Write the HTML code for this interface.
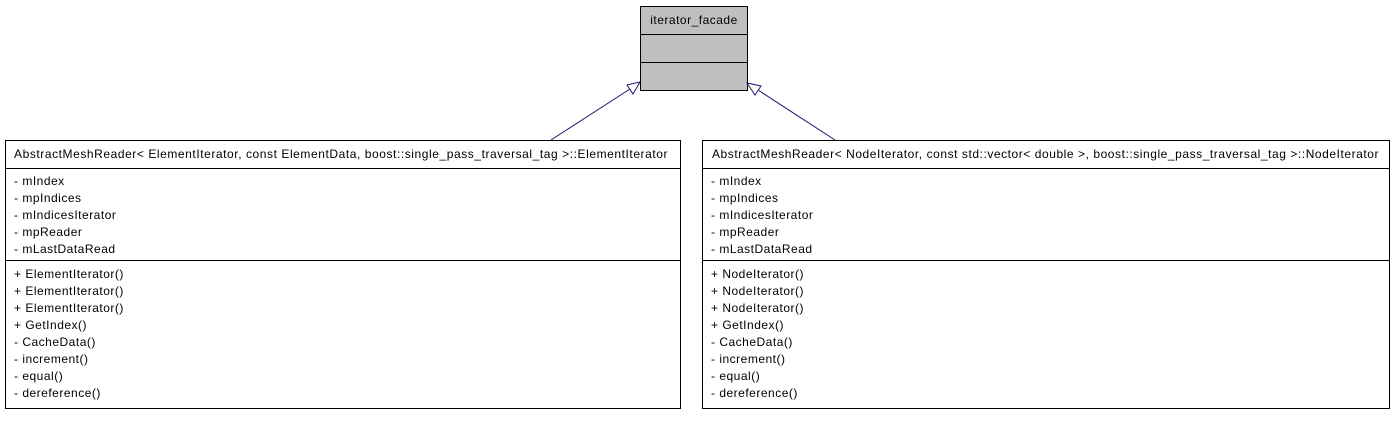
<!DOCTYPE html>
<html><head><style>body{margin:0;background:#fff}svg text{font-family:"Liberation Sans",sans-serif;font-size:12px;fill:#000;letter-spacing:0.5px}</style></head>
<body><svg width="1395" height="416" viewBox="0 0 1395 416" xmlns="http://www.w3.org/2000/svg">
<rect x="640.5" y="6.5" width="107" height="84" fill="#bfbfbf" stroke="#000"/>
<line x1="640.5" y1="34.5" x2="747.5" y2="34.5" stroke="#000"/>
<line x1="640.5" y1="62.5" x2="747.5" y2="62.5" stroke="#000"/>
<text x="694" y="24" text-anchor="middle">iterator_facade</text>
<line x1="551" y1="140" x2="630" y2="89" stroke="#191970"/>
<polygon points="640,82 627,85 633,94" fill="#fff" stroke="#191970"/>
<line x1="835" y1="140" x2="758" y2="90" stroke="#191970"/>
<polygon points="747,83 755,95 761,86" fill="#fff" stroke="#191970"/>
<g stroke="#000" fill="#fff">
<rect x="5.5" y="140.5" width="675" height="268"/>
<line x1="5.5" y1="168.5" x2="680.5" y2="168.5"/>
<line x1="5.5" y1="260.5" x2="680.5" y2="260.5"/>
<rect x="702.5" y="140.5" width="687" height="268"/>
<line x1="702.5" y1="168.5" x2="1389.5" y2="168.5"/>
<line x1="702.5" y1="260.5" x2="1389.5" y2="260.5"/>
</g>
<text x="14" y="158" textLength="654" lengthAdjust="spacing">AbstractMeshReader&lt; ElementIterator, const ElementData, boost::single_pass_traversal_tag &gt;::ElementIterator</text>
<text x="712" y="158" textLength="667" lengthAdjust="spacing">AbstractMeshReader&lt; NodeIterator, const std::vector&lt; double &gt;, boost::single_pass_traversal_tag &gt;::NodeIterator</text>
<g>
<text x="14" y="185">- mIndex</text><text x="14" y="202">- mpIndices</text><text x="14" y="219">- mIndicesIterator</text><text x="14" y="236">- mpReader</text><text x="14" y="253">- mLastDataRead</text>
<text x="14" y="278">+ ElementIterator()</text><text x="14" y="295">+ ElementIterator()</text><text x="14" y="312">+ ElementIterator()</text><text x="14" y="329">+ GetIndex()</text><text x="14" y="346">- CacheData()</text><text x="14" y="363">- increment()</text><text x="14" y="380">- equal()</text><text x="14" y="397">- dereference()</text>
<text x="711" y="185">- mIndex</text><text x="711" y="202">- mpIndices</text><text x="711" y="219">- mIndicesIterator</text><text x="711" y="236">- mpReader</text><text x="711" y="253">- mLastDataRead</text>
<text x="711" y="278">+ NodeIterator()</text><text x="711" y="295">+ NodeIterator()</text><text x="711" y="312">+ NodeIterator()</text><text x="711" y="329">+ GetIndex()</text><text x="711" y="346">- CacheData()</text><text x="711" y="363">- increment()</text><text x="711" y="380">- equal()</text><text x="711" y="397">- dereference()</text>
</g>
</svg></body></html>
